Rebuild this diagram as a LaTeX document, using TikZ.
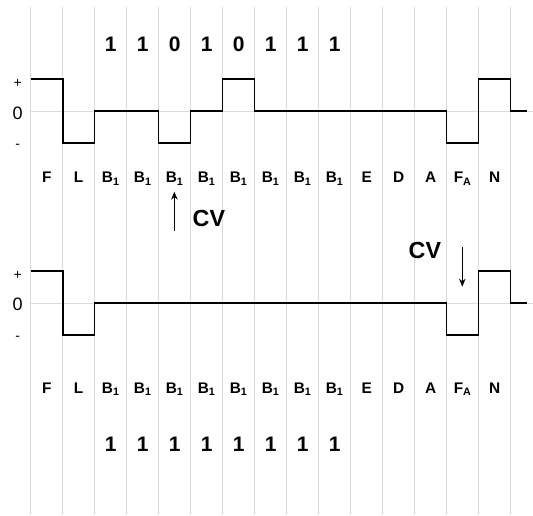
\documentclass[tikz,border=0pt]{standalone}
\usepackage{fontspec}
\setmainfont{Liberation Sans}
\usetikzlibrary{arrows.meta}

\begin{document}
\begin{tikzpicture}[x=32pt,y=32pt,
  signal/.style={line width=1.6pt,line join=miter},
  bit/.style={font=\bfseries\fontsize{21}{21}\selectfont,anchor=base,inner sep=0pt},
  slot/.style={font=\bfseries\fontsize{15.4}{16}\selectfont,anchor=base,inner sep=0pt},
  level/.style={font=\fontsize{14}{14}\selectfont,anchor=base,inner sep=0pt},
  cvtext/.style={font=\bfseries\fontsize{23.3}{24}\selectfont,anchor=base,inner sep=0pt},
  cvarrow/.style={line width=1.2pt,-{Stealth[length=8pt,width=6.5pt]}}]
\useasboundingbox (-0.96,-12.63) rectangle (15.70,3.47);
% grid
\foreach \i in {0,...,15} \draw[gray!28,line width=0.9pt] (\i,3.26) -- (\i,-12.63);
\draw[gray!28,line width=0.9pt] (0,0) -- (15.7,0);
\draw[gray!28,line width=0.9pt] (0,-6) -- (15.7,-6);
% levels
\foreach \y in {0,-6} {
  \node[level] (plus\y) at (-0.41,\y+0.73) {+};
  \node[level,font=\fontsize{18}{18}\selectfont] (zero\y) at (-0.41,\y-0.25) {0};
  \node[level] (minus\y) at (-0.41,\y-1.18) {-};
}
% top line code
\draw[signal] (0,1) -- (1,1) -- (1,-1) -- (2,-1) -- (2,0) -- (4,0) -- (4,-1) -- (5,-1)
  -- (5,0) -- (6,0) -- (6,1) -- (7,1) -- (7,0) -- (13,0) -- (13,-1) -- (14,-1)
  -- (14,1) -- (15,1) -- (15,0) -- (15.5,0);
% bottom line code
\draw[signal] (0,-5) -- (1,-5) -- (1,-7) -- (2,-7) -- (2,-6) -- (13,-6) -- (13,-7)
  -- (14,-7) -- (14,-5) -- (15,-5) -- (15,-6) -- (15.5,-6);
% bits
\foreach \b [count=\k from 2] in {1,1,0,1,0,1,1,1}
  \node[bit] (tb\k) at (\k+0.5,1.853) {\b};
\foreach \b [count=\k from 2] in {1,1,1,1,1,1,1,1}
  \node[bit] (bb\k) at (\k+0.5,-10.65) {\b};
% slot names
\foreach \t [count=\k from 0] in {F,L,B\textsubscript{1},B\textsubscript{1},B\textsubscript{1},%
    B\textsubscript{1},B\textsubscript{1},B\textsubscript{1},B\textsubscript{1},B\textsubscript{1},%
    E,D,A,F\textsubscript{A},N} {
  \node[slot] (ts\k) at (\k+0.5,-2.24) {\t};
  \node[slot] (bs\k) at (\k+0.5,-8.82) {\t};
}
% code violations
\node[cvtext] (cv1) at (5.57,-3.615) {CV};
\coordinate (cv1tail) at (4.49,-3.75);
\coordinate (cv1tip) at (4.49,-2.52);
\draw[cvarrow] (cv1tail) -- (cv1tip);
\node[cvtext] (cv2) at (12.32,-4.60) {CV};
\coordinate (cv2tail) at (13.49,-4.26);
\coordinate (cv2tip) at (13.49,-5.49);
\draw[cvarrow] (cv2tail) -- (cv2tip);
\end{tikzpicture}
\end{document}
